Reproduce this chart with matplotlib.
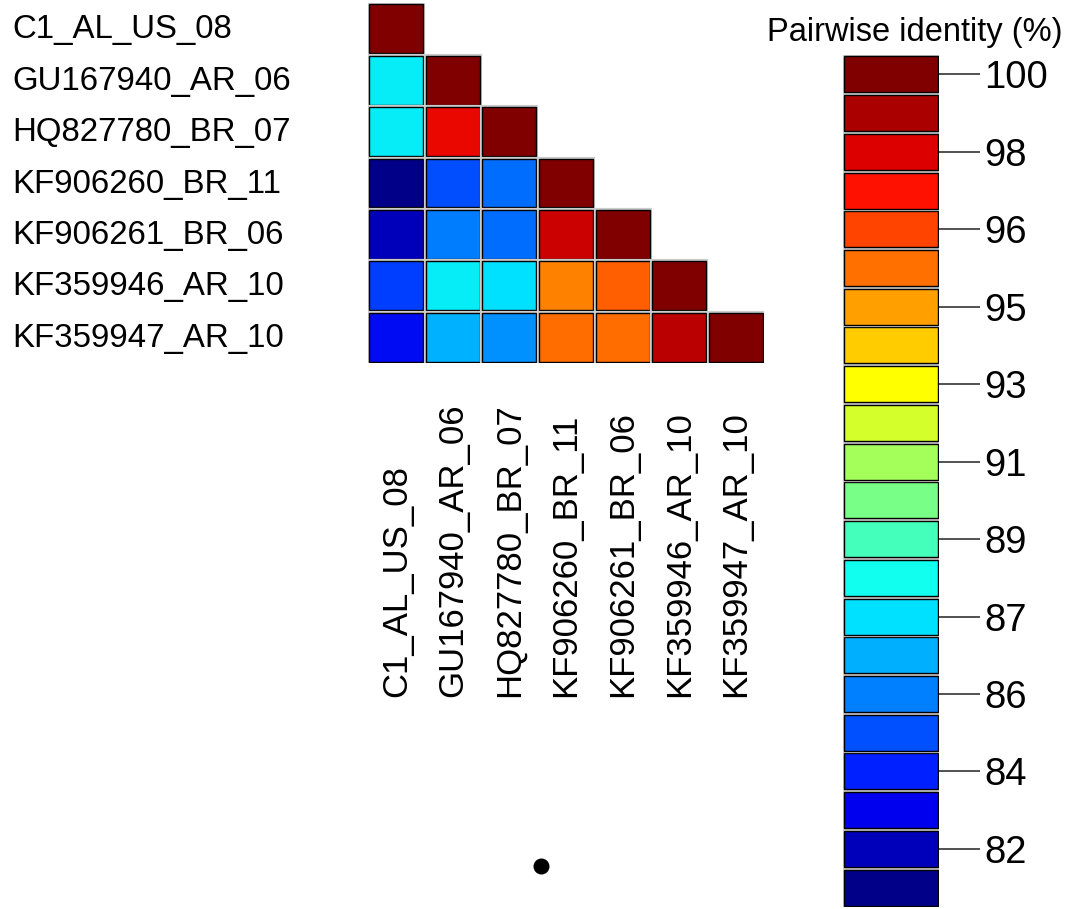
import matplotlib
matplotlib.use("Agg")
import matplotlib.pyplot as plt
import numpy as np
from matplotlib.colors import LinearSegmentedColormap, Normalize
from matplotlib.transforms import blended_transform_factory

plt.rcParams['font.family'] = ['Liberation Sans', 'DejaVu Sans']

# ---------------- data ----------------
names = ["C1_AL_US_08", "GU167940_AR_06", "HQ827780_BR_07", "KF906260_BR_11",
         "KF906261_BR_06", "KF359946_AR_10", "KF359947_AR_10"]

# lower-triangular pairwise identity (%)
row0 = [100.0]
row1 = [87.8, 100.0]
row2 = [87.8, 97.8, 100.0]
row3 = [81.1, 84.7, 85.3, 100.0]
row4 = [82.0, 85.6, 85.3, 98.5, 100.0]
row5 = [84.4, 87.8, 87.4, 95.2, 95.8, 100.0]
row6 = [83.2, 86.5, 85.9, 95.5, 95.5, 98.8, 100.0]
rows = [row0, row1, row2, row3, row4, row5, row6]

# colour-key levels (bottom to top) and tick labels
cbar_levels = [81.1, 82.0, 82.9, 83.8, 84.7, 85.6, 86.5, 87.4, 88.3, 89.2, 90.1,
               91.0, 91.9, 92.8, 93.7, 94.6, 95.5, 96.4, 97.3, 98.2, 99.1, 100.0]
tick_levels = [82.0, 83.8, 85.6, 87.4, 89.2, 91.0, 92.8, 94.6, 96.4, 98.2, 100.0]
tick_labels = ["82", "84", "86", "87", "89", "91", "93", "95", "96", "98", "100"]

key_colors = ["#000088", "#0000BB", "#0000EE", "#0020FF", "#0050FF", "#0080FF",
              "#00B0FF", "#00E0FF", "#11FFEE", "#44FFBB", "#78FF87", "#A5FF5A",
              "#D4FF2B", "#FFFF00", "#FFCC00", "#FF9F00", "#FF7000", "#FF4400",
              "#FF1100", "#DD0000", "#AA0000", "#800000"]

dot_pos = (3.06, 16.78)

# ---------------- figure ----------------
W, H = 1079, 909
fig = plt.figure(figsize=(W / 100, H / 100), dpi=100)

def px_axes(x0, y0, x1, y1):
    return fig.add_axes([x0 / W, 1 - y1 / H, (x1 - x0) / W, (y1 - y0) / H])

cmap = LinearSegmentedColormap.from_list("key", key_colors)
norm = Normalize(vmin=cbar_levels[0], vmax=cbar_levels[-1])

# heatmap
ax = px_axes(368, 3, 764, 363)
ax.set_xlim(0, 7)
ax.set_ylim(7, 0)
ax.axis("off")
cw, ch = 0.955, 0.95
for i, r in enumerate(rows):
    for j, v in enumerate(r):
        c = cmap(norm(v))
        ax.bar(j + 0.5, ch, width=cw, bottom=i + 0.5 - ch / 2, color=c,
               edgecolor="#cccccc", linewidth=3.0)
        ax.bar(j + 0.5, ch, width=cw, bottom=i + 0.5 - ch / 2, color=c,
               edgecolor="black", linewidth=1.0)

# row labels
tr_rows = blended_transform_factory(fig.transFigure, ax.transData)
for i, n in enumerate(names):
    ax.text(12 / W, i + 0.52, n, transform=tr_rows, ha="left", va="center",
            fontsize=23.8)

# column labels (aligned at their start, bottom)
tr_cols = blended_transform_factory(ax.transData, fig.transFigure)
for j, n in enumerate(names):
    ax.text(j + 0.5, 1 - 697 / H, n, transform=tr_cols, rotation=90,
            ha="center", va="bottom", fontsize=25)

ax.plot([dot_pos[0]], [dot_pos[1]], "o", color="black", markersize=10.5,
        clip_on=False)

# colour key
cax = px_axes(843, 55, 939, 907)
step = 0.9
cax.set_ylim(cbar_levels[0] - step / 2, cbar_levels[-1] + step / 2)
cax.set_xlim(0, 1)
bh = step * 0.93
for lev, col in zip(cbar_levels, key_colors):
    cax.bar(0.5, bh, width=0.985, bottom=lev - bh / 2, color=col,
            edgecolor="#cccccc", linewidth=3.0)
    cax.bar(0.5, bh, width=0.985, bottom=lev - bh / 2, color=col,
            edgecolor="black", linewidth=1.0)
for s in cax.spines.values():
    s.set_visible(False)
cax.set_xticks([])
cax.yaxis.tick_right()
cax.set_yticks(tick_levels)
cax.set_yticklabels(tick_labels)
cax.tick_params(axis="y", length=29.5, width=1.2, color="#333333",
                labelsize=27.5, pad=3)

fig.text(915 / W, 1 - 33 / H, "Pairwise identity (%)", ha="center",
         va="center", fontsize=23.5)

fig.savefig("out.png", dpi=100)
